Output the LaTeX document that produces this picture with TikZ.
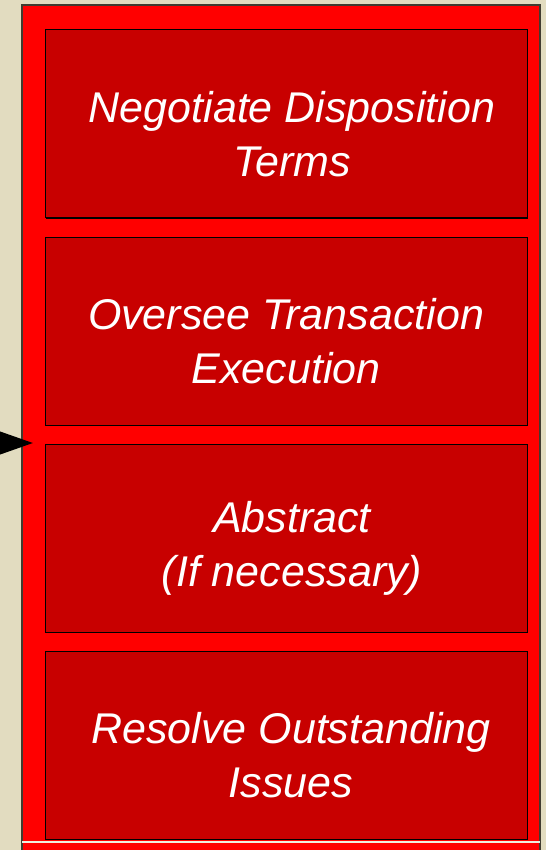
\documentclass[tikz,border=0pt]{standalone}
\usepackage{fontspec}
\setmainfont{Liberation Sans}
\usetikzlibrary{positioning,shadows,arrows.meta}
\definecolor{parchment}{RGB}{226,220,192}
\definecolor{panelred}{RGB}{255,0,0}
\definecolor{boxred}{RGB}{200,0,0}
\definecolor{rim}{RGB}{64,60,48}

\tikzset{
  taskbox/.style={draw=black, line width=1pt, fill=boxred,
    minimum width=482pt, minimum height=188pt, inner sep=0pt,
    drop shadow={shadow xshift=1.3pt, shadow yshift=-1.3pt, opacity=1, fill=black}},
  tasktext/.style={text=white, align=center,
    font=\fontsize{43}{54}\selectfont\itshape, yshift=-10pt}
}

\begin{document}
\begin{tikzpicture}[x=1pt,y=-1pt]
\useasboundingbox (0,0) rectangle (546,850);
\fill[parchment] (0,0) rectangle (546,850);

% red panel
\draw[rim, fill=panelred, line width=1.2pt] (22,5) rectangle (540,870);
\draw[parchment!50!white, line width=1.5pt] (22,842) -- (540,842);

% task boxes
\node[taskbox] (neg) at (286,124) {};
\node[taskbox, below=18pt of neg] (oversee) {};
\node[taskbox, below=18pt of oversee] (abstract) {};
\node[taskbox, below=18pt of abstract] (resolve) {};

\node[tasktext, xshift=6pt] (negtext) at (neg.center) {Negotiate Disposition\\Terms};
\node[tasktext] (overseetext) at (oversee.center) {Oversee Transaction\\Execution};
\node[tasktext, xshift=6pt] (abstracttext) at (abstract.center) {Abstract\\(If necessary)};
\node[tasktext, xshift=5pt] (resolvetext) at (resolve.center) {Resolve Outstanding\\Issues};

% incoming arrow
\coordinate (feed) at (-40,443);
\coordinate (feedtip) at (33,443);
\draw[line width=3pt, -{Triangle[length=34pt,width=23pt]}] (feed) -- (feedtip);
\end{tikzpicture}
\end{document}
